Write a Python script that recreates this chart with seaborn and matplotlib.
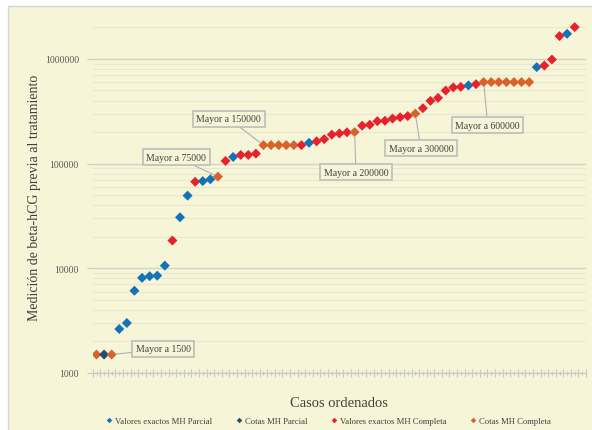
import numpy as np
import pandas as pd
import matplotlib
matplotlib.use("Agg")
import matplotlib.pyplot as plt
import seaborn as sns
from matplotlib.lines import Line2D
from matplotlib.patches import Rectangle
from matplotlib.ticker import FixedLocator, FuncFormatter, NullFormatter

# data (beta-hCG, casos ordenados)
valores = [1500, 1500, 1500, 2630, 3000, 6100, 8100, 8400, 8500, 10600,
           18400, 30700, 49400, 67000, 68000, 70800, 75000, 106000, 115600, 120800,
           121000, 124500, 150000, 150000, 150000, 150000, 150000, 150000, 158000, 163000,
           171000, 189000, 194000, 199000, 200000, 230000, 235000, 254000, 256000, 269000,
           277000, 284000, 300000, 338000, 397000, 424000, 498000, 534000, 540000, 558000,
           573000, 600000, 600000, 600000, 600000, 600000, 600000, 600000, 834000, 863000,
           985000, 1650000, 1735000, 2010000]

# VP = valores exactos MH parcial, CP = cotas MH parcial
# VC = valores exactos MH completa, CC = cotas MH completa
tipos = ["CC", "CP", "CC", "VP", "VP", "VP", "VP", "VP", "VP", "VP",
         "VC", "VP", "VP", "VC", "VP", "VP", "CC", "VC", "VP", "VC",
         "VC", "VC", "CC", "CC", "CC", "CC", "CC", "VC", "VP", "VC",
         "VC", "VC", "VC", "VC", "CC", "VC", "VC", "VC", "VC", "VC",
         "VC", "VC", "CC", "VC", "VC", "VC", "VC", "VC", "VC", "VP",
         "VC", "CC", "CC", "CC", "CC", "CC", "CC", "CC", "VP", "VC",
         "VC", "VC", "VP", "VC"]

series_codes = ["VP", "CP", "VC", "CC"]
series_names = ["Valores exactos MH Parcial", "Cotas MH Parcial",
                "Valores exactos MH Completa", "Cotas MH Completa"]
series_colors = ["#1473b8", "#1f4e79", "#e8212f", "#d9622b"]

anotaciones = ["Mayor a 1500", "Mayor a 75000", "Mayor a 150000",
               "Mayor a 200000", "Mayor a 300000", "Mayor a 600000"]
anot_casos = [2, 16, 22, 34, 42, 51]
anot_offsets = [(37, 4), (-30, 14), (-25, 19), (1, -29), (4, -25), (3, -31)]

n_casos = 65  # last category is empty in the original

df = pd.DataFrame({"caso": np.arange(len(valores)), "valor": valores, "tipo": tipos})

fig = plt.figure(figsize=(5.92, 4.31), dpi=100)
fig.patch.set_facecolor("white")
plt.rcParams["font.family"] = ["Liberation Serif", "DejaVu Serif"]

bg = "#f6f5d8"
fig.add_artist(Rectangle((8 / 592, -0.05), 1.0, 1 - 7 / 431 + 0.05, transform=fig.transFigure,
                         facecolor=bg, edgecolor="#d4d4d4", lw=1.0, zorder=-5))

ax = fig.add_axes([0.1566, 0.1323, 0.99 - 0.1566, 0.949 - 0.1323])
ax.set_facecolor("none")

sns.scatterplot(data=df, x="caso", y="valor", hue="tipo", hue_order=series_codes,
                palette=dict(zip(series_codes, series_colors)), marker="D", s=26,
                linewidth=0, legend=False, ax=ax, zorder=3)

ax.set_yscale("log")
ax.set_ylim(1000, 2.3e6)
ax.set_xlim(-0.5, n_casos - 0.5)

# gridlines
ax.yaxis.set_major_locator(FixedLocator([1e3, 1e4, 1e5, 1e6]))
ax.yaxis.set_major_formatter(FuncFormatter(lambda v, p: f"{int(v)}"))
minors = [m * 10 ** d for d in range(3, 7) for m in range(2, 10)]
ax.yaxis.set_minor_locator(FixedLocator(minors))
ax.yaxis.set_minor_formatter(NullFormatter())
ax.grid(which="major", axis="y", color="#d3d3cc", lw=1.0, zorder=0)
ax.grid(which="minor", axis="y", color="#e8e7d2", lw=0.8, zorder=0)
ax.grid(which="both", axis="x", visible=False)

ax.tick_params(axis="y", which="major", length=4, color="#c8c8c8", labelsize=7,
               labelcolor="#595959", pad=6)
ax.tick_params(axis="y", which="minor", length=0)

# category tick marks along the bottom
ax.xaxis.set_major_locator(FixedLocator(np.arange(n_casos + 1) - 0.5))
ax.xaxis.set_minor_locator(FixedLocator(np.arange(n_casos)))
ax.xaxis.set_major_formatter(NullFormatter())
ax.tick_params(axis="x", which="major", direction="inout", length=6, color="#c8c8c8", width=0.8)
ax.tick_params(axis="x", which="minor", direction="inout", length=3, color="#c8c8c8", width=0.8)

for side in ["top", "right", "left"]:
    ax.spines[side].set_visible(False)
ax.spines["bottom"].set_color("#c8c8c8")

ax.set_xlabel("Casos ordenados", fontsize=10.5, color="#404040", labelpad=10)
ax.set_ylabel("Medición de beta-hCG previa al tratamiento", fontsize=10,
              color="#404040", labelpad=3)

for texto, idx, off in zip(anotaciones, anot_casos, anot_offsets):
    ax.annotate(texto, xy=(idx, valores[idx]), xytext=off, textcoords="offset points",
                ha="center", va="center", fontsize=7, color="#404040",
                bbox=dict(boxstyle="square,pad=0.35", fc=bg, ec="#bdbdbd", lw=1.2),
                arrowprops=dict(arrowstyle="-", color="#b0b0b0", lw=0.8, shrinkA=0, shrinkB=3),
                zorder=4)

handles = [Line2D([], [], ls="", marker="D", ms=2.8, mew=0, color=c) for c in series_colors]
fig.legend(handles, series_names, loc="center", bbox_to_anchor=(328 / 592, 1 - 422 / 431),
           ncol=4, frameon=False, fontsize=6.2, handletextpad=0.2, columnspacing=2.6,
           labelcolor="#404040", handlelength=1.0)

fig.savefig("out.png", dpi=100, facecolor="white")
